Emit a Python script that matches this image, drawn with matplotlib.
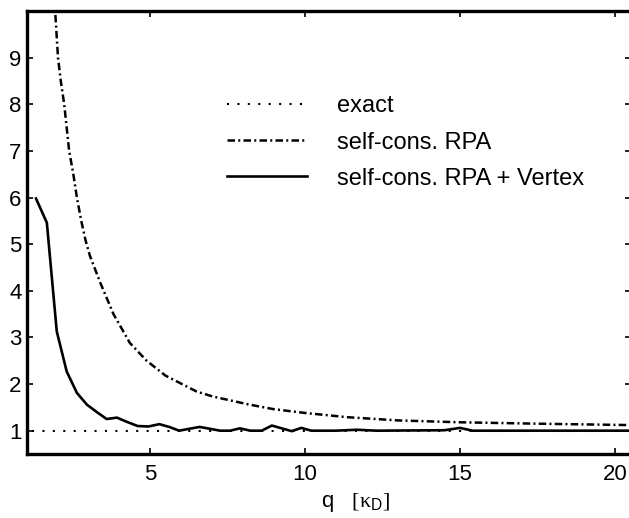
import matplotlib
matplotlib.use('Agg')
import matplotlib.pyplot as plt

plt.rcParams['font.family'] = ['Liberation Sans', 'DejaVu Sans']
plt.rcParams['mathtext.fontset'] = 'custom'
plt.rcParams['mathtext.rm'] = 'Liberation Serif'
plt.rcParams['mathtext.it'] = 'Liberation Serif:italic'
plt.rcParams['mathtext.sf'] = 'Liberation Sans'

# ---- data ----
q_exact = [1.2, 20.5]
exact = [1.0, 1.0]

q_rpa = [1.88, 1.94, 2.03, 2.12, 2.23, 2.39, 2.52, 2.64, 2.78, 2.92, 3.06, 3.39,
         3.82, 4.35, 4.89, 5.50, 6.50, 7.04, 8.20, 9.00, 10.0, 11.35, 13.0,
         15.0, 17.5, 20.5]
rpa = [10.3, 9.98, 9.0, 8.5, 8.0, 7.0, 6.52, 6.0, 5.5, 5.08, 4.75, 4.18,
       3.50, 2.88, 2.50, 2.18, 1.84, 1.73, 1.56, 1.46, 1.38, 1.29, 1.22,
       1.18, 1.15, 1.12]

q_vertex = [1.32, 1.67, 1.99, 2.31, 2.64, 2.96, 3.28, 3.60, 3.93, 4.25, 4.60,
            4.95, 5.30, 5.62, 5.94, 6.26, 6.60, 6.94, 7.26, 7.58, 7.90, 8.23,
            8.60, 8.93, 9.30, 9.57, 9.88, 10.2, 11.0, 11.67, 12.3, 14.5, 15.0,
            15.4, 20.5]
vertex = [5.98, 5.46, 3.13, 2.27, 1.81, 1.56, 1.40, 1.25, 1.28, 1.19, 1.10,
          1.09, 1.14, 1.08, 1.00, 1.04, 1.08, 1.04, 1.00, 1.00, 1.05, 1.00,
          1.00, 1.11, 1.04, 0.99, 1.06, 1.00, 1.00, 1.02, 1.00, 1.01, 1.06,
          1.00, 1.00]

labels = ['exact', 'self-cons. RPA', 'self-cons. RPA + Vertex']
xticks = [5, 10, 15, 20]
yticks = [1, 2, 3, 4, 5, 6, 7, 8, 9]

W, H = 629, 518
fig = plt.figure(figsize=(W / 100, H / 100), dpi=100)
ax = fig.add_axes([27 / W, 1 - 454 / H, (630.5 - 27) / W, (454 - 11) / H])

ax.plot(q_exact, exact, color='black', lw=1.5, linestyle=(0, (1, 4)),
        label=labels[0])
ax.plot(q_rpa, rpa, color='black', lw=1.8,
        linestyle=(0, (3.0, 1.3, 0.8, 1.3)), label=labels[1])
ax.plot(q_vertex, vertex, color='black', lw=1.9, label=labels[2])

ax.set_xlim(1.03, 20.5)
ax.set_ylim(0.5, 10)
ax.set_xticks(xticks)
ax.set_yticks(yticks)
ax.set_xticklabels([str(t) for t in xticks])
ax.set_yticklabels([str(t) for t in yticks])

for s in ax.spines.values():
    s.set_linewidth(2.4)
    s.set_zorder(5)

ax.tick_params(direction='in', length=4, width=1.2, top=True, right=True,
               labelsize=16, colors='black')
ax.tick_params(axis='x', pad=7)
ax.tick_params(axis='y', pad=4)

fig.text(356 / W, 1 - 507 / H, r'q   $[\mathrm{\kappa}_{\mathsf{D}}]$',
         ha='center', va='baseline', fontsize=16)

leg = ax.legend(loc='center left', bbox_to_anchor=(227 / W, 1 - 142.5 / H),
                bbox_transform=fig.transFigure, frameon=False, fontsize=17,
                borderpad=0, borderaxespad=0, handlelength=3.39,
                handletextpad=1.27, labelspacing=0.6)

fig.savefig('out.png', dpi=100)
